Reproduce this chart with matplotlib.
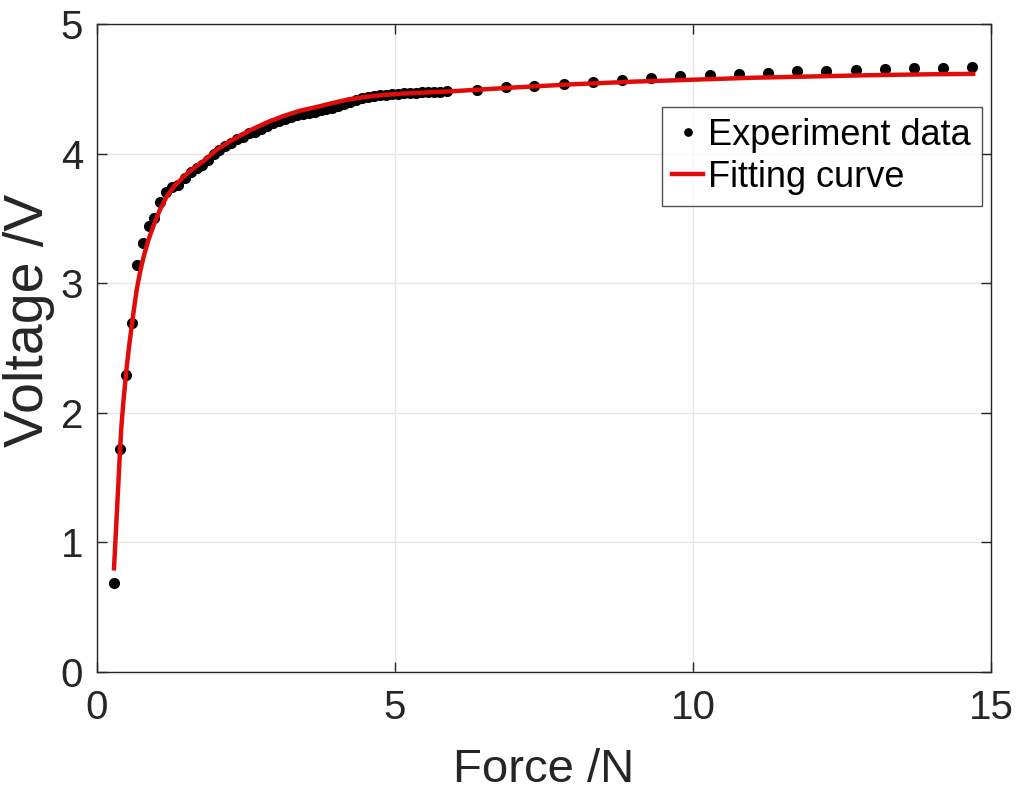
import numpy as np
import matplotlib
matplotlib.use('Agg')
from matplotlib import pyplot as plt

plt.rcParams['font.family'] = ['Liberation Sans', 'DejaVu Sans']

# experiment data
force = [0.285, 0.386, 0.487, 0.58, 0.677, 0.77, 0.867, 0.96, 1.06, 1.16,
         1.25, 1.36, 1.47, 1.57, 1.67, 1.77, 1.87, 1.96, 2.05, 2.15,
         2.25, 2.35, 2.45, 2.55, 2.65, 2.75, 2.85, 2.95, 3.05, 3.15,
         3.25, 3.35, 3.45, 3.55, 3.65, 3.75, 3.85, 3.95, 4.05, 4.15,
         4.25, 4.35, 4.45, 4.55, 4.65, 4.75, 4.85, 4.95, 5.05, 5.15,
         5.25, 5.35, 5.45, 5.55, 5.65, 5.75, 5.88,
         6.37, 6.86, 7.34, 7.83, 8.32, 8.81, 9.30, 9.79, 10.28, 10.77,
         11.26, 11.74, 12.24, 12.73, 13.22, 13.71, 14.19, 14.68]
voltage = [0.69, 1.72, 2.29, 2.69, 3.14, 3.31, 3.44, 3.50, 3.63, 3.70,
           3.74, 3.76, 3.81, 3.86, 3.89, 3.91, 3.95, 4.00, 4.03, 4.06,
           4.08, 4.11, 4.13, 4.155, 4.17, 4.19, 4.21, 4.235, 4.25, 4.27,
           4.285, 4.295, 4.305, 4.31, 4.32, 4.335, 4.345, 4.355, 4.365, 4.385,
           4.40, 4.415, 4.43, 4.44, 4.445, 4.45, 4.455, 4.46, 4.462, 4.465,
           4.468, 4.47, 4.472, 4.474, 4.476, 4.478, 4.48,
           4.49, 4.51, 4.52, 4.54, 4.55, 4.57, 4.58, 4.60, 4.61, 4.614,
           4.62, 4.635, 4.64, 4.647, 4.653, 4.66, 4.66, 4.666]

# fitting curve (sampled from the figure)
fit_force = [0.285, 0.31, 0.33, 0.36, 0.386, 0.41, 0.44, 0.47, 0.50, 0.54,
             0.58, 0.62, 0.666, 0.72, 0.78, 0.86, 0.945, 1.05, 1.17, 1.30,
             1.45, 1.60, 1.78, 2.01, 2.25, 2.57, 2.85, 3.13, 3.40, 3.69,
             4.00, 4.24, 4.50, 4.80, 5.10, 5.36, 5.92, 7.0, 8.0, 9.0,
             10.0, 11.0, 12.0, 13.0, 14.0, 14.7]
fit_voltage = [0.80, 1.02, 1.20, 1.47, 1.71, 1.90, 2.07, 2.22, 2.36, 2.52,
               2.66, 2.80, 2.95, 3.08, 3.20, 3.33, 3.44, 3.56, 3.67, 3.75,
               3.82, 3.88, 3.94, 4.03, 4.10, 4.18, 4.24, 4.29, 4.33, 4.36,
               4.395, 4.42, 4.437, 4.452, 4.462, 4.468, 4.48, 4.51, 4.535, 4.555,
               4.57, 4.585, 4.595, 4.605, 4.612, 4.615]

fig = plt.figure(figsize=(10.19, 7.91), dpi=100)
ax = fig.add_axes([0.0952, 0.1504, 0.8773, 0.8193])

ax.plot(force, voltage, 'o', color='black', markersize=7, label='Experiment data', zorder=3)
ax.plot(fit_force, fit_voltage, '-', color='#e00c0c', linewidth=3.2, label='Fitting curve', zorder=4)

ax.set_xlim(0, 15)
ax.set_ylim(0, 5)
ax.set_xticks([0, 5, 10, 15])
ax.set_yticks([0, 1, 2, 3, 4, 5])
ax.grid(True, color='#e6e6e6', linewidth=1)
ax.set_axisbelow(True)
ax.tick_params(direction='in', length=7, width=1, colors='#262626', labelsize=29,
               top=True, right=True)
ax.tick_params(axis='x', pad=12)
ax.tick_params(axis='y', pad=10)
for s in ax.spines.values():
    s.set_color('#262626')
    s.set_linewidth(1)

ax.set_xlabel('Force /N', fontsize=34, color='#262626', labelpad=15)
ax.set_ylabel('Voltage /V', fontsize=40, color='#262626')
ax.yaxis.set_label_coords(-0.047, 0.542)

leg = ax.legend(loc='upper right', bbox_to_anchor=(0.99, 0.872), fontsize=26,
                frameon=True, fancybox=False, edgecolor='#262626', handlelength=0.85,
                handletextpad=0.15, borderpad=0.3, labelspacing=0.2, borderaxespad=0,
                markerscale=0.75)
leg.get_frame().set_linewidth(1)

plt.savefig('out.png', dpi=100)
